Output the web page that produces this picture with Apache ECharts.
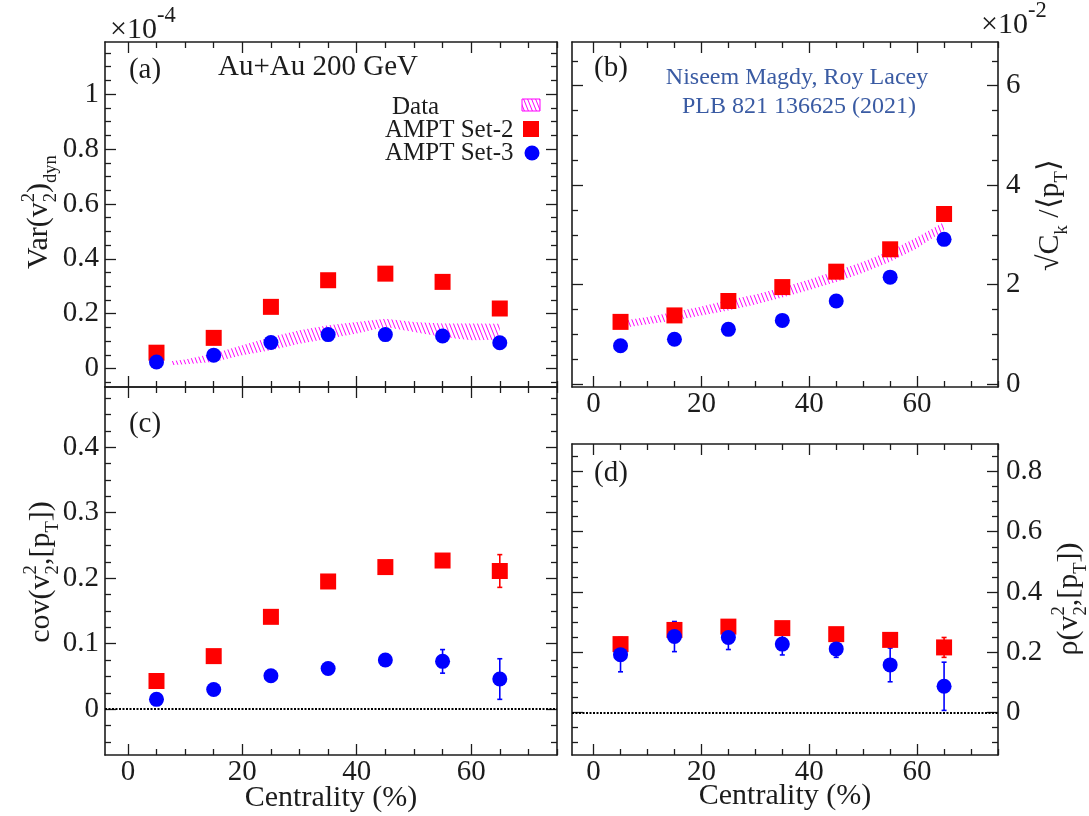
<!DOCTYPE html>
<html>
<head>
<meta charset="utf-8">
<script src="https://cdn.jsdelivr.net/npm/echarts@6/dist/echarts.min.js"></script>
<style>
  html, body { margin: 0; padding: 0; background: #fff; }
  #chart { width: 1089px; height: 816px; }
</style>
</head>
<body>
<div id="chart"></div>
<script>
// ---- centrality bins and tick labels ----
const centrality = [5, 15, 25, 35, 45, 55, 65];
const xTicks = [0, 20, 40, 60];

// (a) Var(v2^2)_dyn  [x 1e-4]
const varSet2 = [0.058, 0.112, 0.225, 0.322, 0.346, 0.316, 0.219];
const varSet3 = [0.024, 0.049, 0.095, 0.124, 0.124, 0.119, 0.094];
const varDataX = [7.5, 10, 15, 20, 25, 30, 35, 40, 45, 50, 55, 60, 65];
const varDataLow = [0.012, 0.016, 0.024, 0.049, 0.067, 0.091, 0.109, 0.128, 0.152, 0.133, 0.115, 0.103, 0.105];
const varDataHigh = [0.027, 0.033, 0.055, 0.085, 0.115, 0.140, 0.158, 0.170, 0.182, 0.170, 0.164, 0.164, 0.163];
const varTicks = [0, 0.2, 0.4, 0.6, 0.8, 1];

// (b) sqrt(C_k)/<pT>  [x 1e-2]
const ckSet2 = [1.25, 1.38, 1.67, 1.95, 2.26, 2.71, 3.42];
const ckSet3 = [0.77, 0.90, 1.10, 1.28, 1.67, 2.15, 2.91];
const ckDataX = [5, 10, 15, 20, 25, 30, 35, 40, 45, 50, 55, 60, 65];
const ckDataLow = [1.12, 1.20, 1.28, 1.38, 1.48, 1.60, 1.74, 1.89, 2.05, 2.24, 2.46, 2.73, 3.09];
const ckDataHigh = [1.27, 1.35, 1.45, 1.56, 1.69, 1.80, 1.94, 2.10, 2.28, 2.46, 2.68, 2.95, 3.26];
const ckTicks = [0, 2, 4, 6];

// (c) cov(v2^2, [pT])
const covSet2 = [0.043, 0.081, 0.141, 0.195, 0.217, 0.227, 0.211];
const covSet2Err = [0.002, 0.002, 0.003, 0.003, 0.004, 0.008, 0.025];
const covSet3 = [0.015, 0.030, 0.051, 0.062, 0.075, 0.073, 0.046];
const covSet3Err = [0.002, 0.002, 0.003, 0.004, 0.005, 0.018, 0.031];
const covTicks = [0, 0.1, 0.2, 0.3, 0.4];

// (d) rho(v2^2, [pT])
const rhoSet2 = [0.227, 0.274, 0.285, 0.280, 0.260, 0.241, 0.216];
const rhoSet2Err = [0.010, 0.010, 0.010, 0.010, 0.010, 0.012, 0.033];
const rhoSet3 = [0.192, 0.252, 0.249, 0.227, 0.211, 0.158, 0.087];
const rhoSet3Err = [0.057, 0.050, 0.040, 0.036, 0.028, 0.056, 0.080];
const rhoTicks = [0, 0.2, 0.4, 0.6, 0.8];

// ---- styling ----
const FONT = 'Liberation Serif';
const INK = '#1c1c1c';
const RED = '#ff0000';
const BLUE = '#0000ff';
const MAGENTA = '#ff00ff';
const NOTE = '#3a5ba3';

// diagonal hatch used for the Data band
const hatchCanvas = (() => {
  const c = document.createElement('canvas');
  c.width = 4; c.height = 10;
  const g = c.getContext('2d');
  g.strokeStyle = MAGENTA; g.lineWidth = 1.0;
  for (const dx of [-4, 0, 4]) { g.beginPath(); g.moveTo(dx, 0); g.lineTo(dx + 4, 10); g.stroke(); }
  return c;
})();
const hatchFill = { image: hatchCanvas, repeat: 'repeat' };

// text measuring for the hand-set sub/superscript labels
const measureCtx = document.createElement('canvas').getContext('2d');
function textWidth(t, size) {
  measureCtx.font = size + 'px "' + FONT + '"';
  return measureCtx.measureText(t).width;
}
function mathText(x, y, pieces, size, color, opts) {
  opts = opts || {};
  let pos = 0;
  const kids = [];
  for (const p of pieces) {
    const s = size * (p.s || 1);
    const base = -(p.up || 0) * size;
    kids.push({
      type: 'text', x: pos, y: base - 0.32 * s,
      style: { text: p.t, fontFamily: FONT, fontSize: s, fill: color, verticalAlign: 'middle', align: 'left' }
    });
    if (!p.stack) pos += textWidth(p.t, s);
  }
  const align = opts.align || 'center';
  const shift = align === 'center' ? -pos / 2 : (align === 'right' ? -pos : 0);
  kids.forEach(k => { k.x += shift; });
  return { type: 'group', x: x, y: y, rotation: opts.rotate || 0, silent: true, children: kids };
}
const SUB = { s: 0.62, up: -0.26 };
const SUP = { s: 0.62, up: 0.45 };
const sub = (t, stack) => Object.assign({ t: t, stack: !!stack }, SUB);
const sup = t => Object.assign({ t: t }, SUP);

// ---- panel frames ----
const grids = [
  { left: 105, top: 42, width: 452, height: 345 },   // (a)
  { left: 572, top: 42, width: 426, height: 345 },   // (b)
  { left: 105, top: 387, width: 452, height: 368 },  // (c)
  { left: 572, top: 444, width: 426, height: 311 }   // (d)
].map(g => Object.assign({ outerBoundsMode: 'none', containLabel: false }, g));

function steps(min, max, step) {
  const out = [];
  for (let k = Math.ceil(min / step - 1e-9); k * step <= max + 1e-9; k++) out.push(+(k * step).toFixed(6));
  return out;
}

const TICK_FONT = 29;
const xAxes = [], yAxes = [];
function addAxes(list, gridIndex, sides, labelSide, min, max, major, minorStep, margin) {
  const first = list.length;
  const minor = steps(min, max, minorStep).filter(v => !major.some(m => Math.abs(m - v) < 1e-9));
  for (const side of sides) {
    list.push({
      gridIndex, type: 'value', position: side, min, max,
      axisLine: { show: true, onZero: false, lineStyle: { color: INK, width: 1.6 } },
      axisTick: { show: true, inside: true, length: 11, customValues: major, lineStyle: { color: INK, width: 1.3 } },
      axisLabel: {
        show: side === labelSide, customValues: major, margin: margin,
        fontFamily: FONT, fontSize: TICK_FONT, color: INK, formatter: v => String(v)
      },
      splitLine: { show: false }
    });
    list.push({
      gridIndex, type: 'value', position: side, min, max,
      axisLine: { show: false, onZero: false },
      axisTick: { show: true, inside: true, length: 6, customValues: minor, lineStyle: { color: INK, width: 1.3 } },
      axisLabel: { show: false },
      splitLine: { show: false }
    });
  }
  return first;
}

// x axes: centrality -4 .. 75
const xa = addAxes(xAxes, 0, ['bottom', 'top'], null, -4, 75, xTicks, 5, 3);
const xb = addAxes(xAxes, 1, ['bottom', 'top'], 'bottom', -4, 75, xTicks, 5, 3);
const xc = addAxes(xAxes, 2, ['bottom', 'top'], 'bottom', -4, 75, xTicks, 5, 3);
const xd = addAxes(xAxes, 3, ['bottom', 'top'], 'bottom', -4, 75, xTicks, 5, 3);
// y axes
const ya = addAxes(yAxes, 0, ['left', 'right'], 'left', -0.067, 1.19, varTicks, 0.05, 6);
const yb = addAxes(yAxes, 1, ['right', 'left'], 'right', -0.06, 6.88, ckTicks, 0.5, 8);
const yc = addAxes(yAxes, 2, ['left', 'right'], 'left', -0.07, 0.492, covTicks, 0.025, 6);
const yd = addAxes(yAxes, 3, ['right', 'left'], 'right', -0.141, 0.891, rhoTicks, 0.05, 8);

// ---- series builders ----
function bandSeries(xi, yi, xs, lo, hi) {
  return {
    type: 'custom', xAxisIndex: xi, yAxisIndex: yi, silent: true, z: 1,
    data: [[xs[0], lo[0]]],
    renderItem: (params, api) => {
      const upper = xs.map((x, i) => api.coord([x, hi[i]]));
      const lower = xs.map((x, i) => api.coord([x, lo[i]])).reverse();
      return { type: 'polygon', shape: { points: upper.concat(lower) }, style: { fill: hatchFill, stroke: null } };
    }
  };
}
function errSeries(xi, yi, ys, es, color) {
  return {
    type: 'custom', xAxisIndex: xi, yAxisIndex: yi, silent: true, z: 2,
    data: centrality.map((x, i) => [x, ys[i], es[i]]),
    renderItem: (params, api) => {
      const x = api.value(0), y = api.value(1), e = api.value(2);
      const t = api.coord([x, y + e]), b = api.coord([x, y - e]);
      const st = { stroke: color, lineWidth: 1.6 };
      return {
        type: 'group', children: [
          { type: 'line', shape: { x1: t[0], y1: t[1], x2: b[0], y2: b[1] }, style: st },
          { type: 'line', shape: { x1: t[0] - 2.5, y1: t[1], x2: t[0] + 2.5, y2: t[1] }, style: st },
          { type: 'line', shape: { x1: b[0] - 2.5, y1: b[1], x2: b[0] + 2.5, y2: b[1] }, style: st }
        ]
      };
    }
  };
}
function markerSeries(name, xi, yi, ys, symbol, size, color) {
  return {
    type: 'scatter', name: name, xAxisIndex: xi, yAxisIndex: yi, silent: true, z: 3,
    data: centrality.map((x, i) => [x, ys[i]]),
    symbol: symbol, symbolSize: size,
    itemStyle: { color: color, opacity: 1 },
    emphasis: { disabled: true }
  };
}
const zeroLine = {
  silent: true, symbol: 'none', label: { show: false },
  lineStyle: { type: [2, 1.5], color: '#000', width: 1.8 },
  data: [{ yAxis: 0 }]
};

const SQ = 16, DOT = 15;
const series = [
  // (a)
  bandSeries(xa, ya, varDataX, varDataLow, varDataHigh),
  markerSeries('AMPT Set-2', xa, ya, varSet2, 'rect', SQ, RED),
  markerSeries('AMPT Set-3', xa, ya, varSet3, 'circle', DOT, BLUE),
  // (b)
  bandSeries(xb, yb, ckDataX, ckDataLow, ckDataHigh),
  markerSeries('AMPT Set-2', xb, yb, ckSet2, 'rect', SQ, RED),
  markerSeries('AMPT Set-3', xb, yb, ckSet3, 'circle', DOT, BLUE),
  // (c)
  Object.assign(errSeries(xc, yc, covSet2, covSet2Err, RED), { markLine: zeroLine }),
  markerSeries('AMPT Set-2', xc, yc, covSet2, 'rect', SQ, RED),
  errSeries(xc, yc, covSet3, covSet3Err, BLUE),
  markerSeries('AMPT Set-3', xc, yc, covSet3, 'circle', DOT, BLUE),
  // (d)
  Object.assign(errSeries(xd, yd, rhoSet2, rhoSet2Err, RED), { markLine: zeroLine }),
  markerSeries('AMPT Set-2', xd, yd, rhoSet2, 'rect', SQ, RED),
  errSeries(xd, yd, rhoSet3, rhoSet3Err, BLUE),
  markerSeries('AMPT Set-3', xd, yd, rhoSet3, 'circle', DOT, BLUE)
];

// ---- text, titles and legend ----
const T = 30;
const plain = (x, y, text, size, color, align) => ({
  type: 'text', x: x, y: y, silent: true,
  style: { text: text, fontFamily: FONT, fontSize: size, fill: color || INK, align: align || 'center', verticalAlign: 'middle' }
});
const graphics = [
  // exponents
  mathText(110, 40, [{ t: '×10' }, { t: '-4', s: 0.75, up: 0.55 }], 30, INK, { align: 'left' }),
  mathText(981, 35, [{ t: '×10' }, { t: '-2', s: 0.75, up: 0.55 }], 30, INK, { align: 'left' }),
  // panel tags
  plain(145, 70, '(a)', 29), plain(611, 68, '(b)', 29), plain(145, 424, '(c)', 29), plain(611, 473, '(d)', 29),
  plain(218, 67, 'Au+Au 200 GeV', 29, INK, 'left'),
  plain(797, 78, 'Niseem Magdy, Roy Lacey', 24, NOTE),
  plain(799, 107, 'PLB 821 136625 (2021)', 24, NOTE),
  // legend
  plain(392, 107, 'Data', 25, INK, 'left'),
  plain(385, 130, 'AMPT Set-2', 25, INK, 'left'),
  plain(385, 153, 'AMPT Set-3', 25, INK, 'left'),
  { type: 'rect', silent: true, shape: { x: 522, y: 99, width: 18, height: 12 }, style: { fill: hatchFill, stroke: MAGENTA, lineWidth: 1 } },
  { type: 'rect', silent: true, shape: { x: 523, y: 121, width: 16, height: 16 }, style: { fill: RED } },
  { type: 'circle', silent: true, shape: { cx: 532, cy: 153, r: 7.5 }, style: { fill: BLUE } },
  // axis titles
  mathText(49, 212, [{ t: 'Var(v' }, sub('2', true), sup('2'), { t: ')' }, sub('dyn')], T, INK, { rotate: Math.PI / 2 }),
  mathText(1060, 215, [{ t: '√C' }, sub('k'), { t: ' /⟨p' }, sub('T'), { t: '⟩' }], T, INK, { rotate: Math.PI / 2 }),
  mathText(51, 572, [{ t: 'cov(v' }, sub('2', true), sup('2'), { t: ',[p' }, sub('T'), { t: '])' }], T, INK, { rotate: Math.PI / 2 }),
  mathText(1079, 599, [{ t: 'ρ(v' }, sub('2', true), sup('2'), { t: ',[p' }, sub('T'), { t: '])' }], T, INK, { rotate: Math.PI / 2 }),
  plain(331, 798, 'Centrality (%)', T),
  plain(785, 796, 'Centrality (%)', T)
];

const chart = echarts.init(document.getElementById('chart'), null, { renderer: 'canvas' });
chart.setOption({
  backgroundColor: '#ffffff',
  animation: false,
  grid: grids,
  xAxis: xAxes,
  yAxis: yAxes,
  series: series,
  graphic: graphics
});
</script>
</body>
</html>
